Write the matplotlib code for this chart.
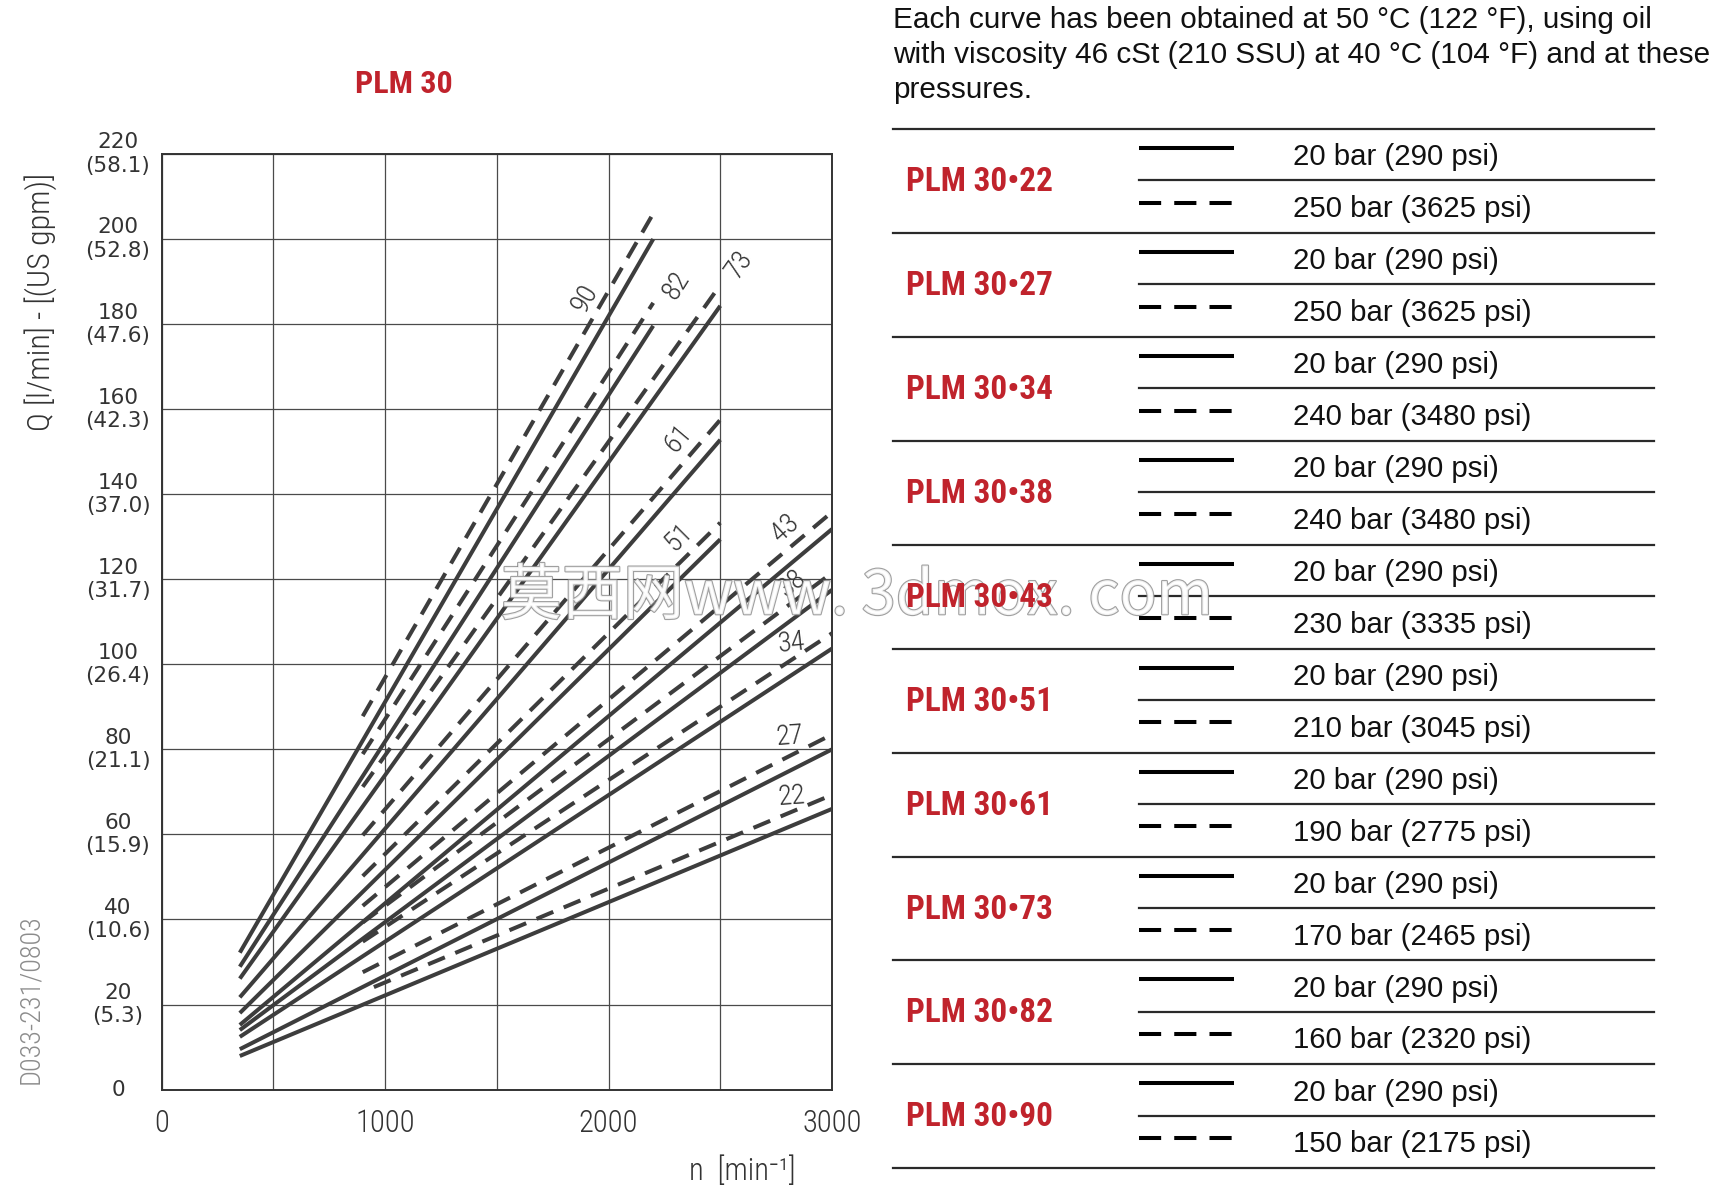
import matplotlib
matplotlib.use("Agg")
import matplotlib.pyplot as plt
import matplotlib.patheffects as pe
from matplotlib import font_manager

# ---------------- data ----------------
sizes = [22, 27, 34, 38, 43, 51, 61, 73, 82, 90]
solid_n_start = [350, 350, 350, 350, 350, 350, 350, 350, 350, 350]
solid_q_start = [7.9, 9.5, 12.4, 14.0, 15.2, 18.0, 21.7, 26.1, 28.9, 32.2]
n_end = [3000, 3000, 3000, 3000, 3000, 2500, 2500, 2500, 2200, 2200]
solid_q_end = [66.0, 80.0, 103.7, 117.5, 131.8, 129.4, 152.8, 184.3, 179.6, 200.0]
dash_n_start = [950, 900, 900, 900, 900, 900, 900, 900, 900, 900]
dash_q_start = [24.1, 27.6, 34.8, 39.3, 43.2, 50.2, 59.8, 71.2, 78.9, 87.8]
dash_q_end = [69.3, 83.5, 107.3, 121.5, 135.8, 133.3, 157.5, 189.2, 185.0, 206.0]

label_n = [2820, 2812, 2820, 2821, 2790, 2315, 2312, 2588, 2305, 1895]
label_q = [69, 83, 105, 119, 132, 130, 153, 194, 189, 186]
label_rot = [4, 4, 6, 40, 42, 45, 50, 55, 58, 60]

x_ticks = [0, 500, 1000, 1500, 2000, 2500, 3000]
x_tick_labels = ["0", "", "1000", "", "2000", "", "3000"]
y_ticks = [0, 20, 40, 60, 80, 100, 120, 140, 160, 180, 200, 220]
y_tick_labels = ["0", "20\n(5.3)", "40\n(10.6)", "60\n(15.9)", "80\n(21.1)",
                 "100\n(26.4)", "120\n(31.7)", "140\n(37.0)", "160\n(42.3)",
                 "180\n(47.6)", "200\n(52.8)", "220\n(58.1)"]

models = ["PLM 30•22", "PLM 30•27", "PLM 30•34", "PLM 30•38", "PLM 30•43",
          "PLM 30•51", "PLM 30•61", "PLM 30•73", "PLM 30•82", "PLM 30•90"]
low_pressure = ["20 bar (290 psi)"] * 10
high_pressure = ["250 bar (3625 psi)", "250 bar (3625 psi)", "240 bar (3480 psi)",
                 "240 bar (3480 psi)", "230 bar (3335 psi)", "210 bar (3045 psi)",
                 "190 bar (2775 psi)", "170 bar (2465 psi)", "160 bar (2320 psi)",
                 "150 bar (2175 psi)"]
header_lines = ["Each curve has been obtained at 50 °C (122 °F), using oil",
                "with viscosity 46 cSt (210 SSU) at 40 °C (104 °F) and at these",
                "pressures."]

# ---------------- fonts ----------------
fl = font_manager.fontManager.ttflist


def has(name, stretch=None):
    return any(f.name == name and (stretch is None or f.stretch == stretch) for f in fl)


if has("Liberation Sans Narrow"):
    COND = dict(family=["Liberation Sans Narrow", "DejaVu Sans"])
    k = 1.0
elif has("Roboto Condensed"):
    COND = dict(family=["Roboto Condensed", "DejaVu Sans"])
    k = 0.92
elif has("DejaVu Sans", "condensed"):
    COND = dict(family=["DejaVu Sans"], stretch="condensed")
    k = 0.84
else:
    COND = dict(family=["Liberation Sans", "DejaVu Sans"])
    k = 0.82
REG = dict(family=["Liberation Sans", "DejaVu Sans"])
THIN = dict(COND, fontweight="light")

RED = "#c0232c"
LINE = "#3d3d3d"
TXT = "#333333"

W, H = 1712, 1189
fig = plt.figure(figsize=(W / 100, H / 100), dpi=100)

# ---------------- chart ----------------
L, R, T, B = 161.6, 832.0, 154.0, 1089.6
ax = fig.add_axes([L / W, (H - B) / H, (R - L) / W, (B - T) / H])
ax.set_xlim(0, 3000)
ax.set_ylim(0, 220)

for i in range(len(sizes)):
    ax.plot([solid_n_start[i], n_end[i]], [solid_q_start[i], solid_q_end[i]],
            color=LINE, lw=2.9, solid_capstyle="butt", zorder=3)
    ax.plot([dash_n_start[i], n_end[i]], [dash_q_start[i], dash_q_end[i]],
            color=LINE, lw=2.9, ls=(0, (4.5, 2.8)), dash_capstyle="butt", zorder=3)
    ax.text(label_n[i], label_q[i], str(sizes[i]), rotation=label_rot[i],
            rotation_mode="anchor", ha="center", va="center",
            fontsize=22 * k, color=TXT, zorder=4, **THIN)

ax.set_xticks(x_ticks)
ax.set_xticklabels(x_tick_labels, fontsize=24 * k, color=TXT, **THIN)
ax.set_yticks(y_ticks)
ax.set_yticklabels(y_tick_labels, family="DejaVu Sans", fontsize=15.5, color=TXT,
                   ha="center", va="center", multialignment="center", linespacing=1.2)
ax.tick_params(axis="x", length=0, pad=14)
ax.tick_params(axis="y", length=0, pad=31.4)
ax.grid(True, color="#4a4a4a", lw=0.9)
ax.set_axisbelow(True)
for s in ax.spines.values():
    s.set_color("#333333")
    s.set_linewidth(1.4)

ax.set_xlabel("n  [min⁻¹]", fontsize=24 * k, color=TXT, va="center", ha="center", **THIN)
ax.xaxis.set_label_coords(0.866, -0.087)
ax.set_ylabel("Q [l/min] - [(US gpm)]", fontsize=25 * k, color=TXT, va="center",
              ha="center", **THIN)
ax.yaxis.set_label_coords(-0.180, 0.842)

fig.text(30.6 / W, 1 - 999 / H, "D033-231/0803", rotation=90, ha="center", va="center",
         fontsize=22 * k, color="#8c8c8c", **THIN)

fig.text(404 / W, 1 - 84 / H, "PLM 30", ha="center", va="center",
         fontweight="bold", fontsize=25 * k, color=RED, **COND)

# ---------------- right table ----------------
tx = fig.add_axes([0, 0, 1, 1])
tx.set_xlim(0, W)
tx.set_ylim(H, 0)
tx.axis("off")

for j, line in enumerate(header_lines):
    tx.text(893, 27.5 + j * 35.5, line, ha="left", va="baseline",
            fontsize=21.4, color="#111111", **REG)

top0, gh = 128.8, 103.96
for i, m in enumerate(models):
    t = top0 + i * gh
    tx.plot([893, 1654], [t, t], color="#2a2a2a", lw=1.6)
    tx.plot([1139, 1654], [t + 51.5, t + 51.5], color="#2a2a2a", lw=1.6)
    tx.plot([1139, 1234], [t + 19, t + 19], color="#000000", lw=2.9, solid_capstyle="butt")
    tx.plot([1139, 1234], [t + 73.8, t + 73.8], color="#000000", lw=2.9,
            ls=(0, (5.5, 3.25)), dash_capstyle="butt")
    tx.text(1293, t + 28.5, low_pressure[i], ha="left", va="center",
            fontsize=21.2, color="#111111", **REG)
    tx.text(1293, t + 80, high_pressure[i], ha="left", va="center",
            fontsize=21.2, color="#111111", **REG)
    tx.text(906, t + 53, m, ha="left", va="center",
            fontweight="bold", fontsize=26 * k, color=RED, zorder=4, **COND)
tb = top0 + len(models) * gh
tx.plot([893, 1654], [tb, tb], color="#2a2a2a", lw=1.6)

# watermark (semi-transparent so the table label stays readable)
tx.text(857, 597, "莫西网www. 3dmox. com", ha="center", va="center",
        family=["Noto Sans CJK SC", "DejaVu Sans"], fontsize=44, fontweight="light",
        color="white", alpha=0.85, zorder=3,
        path_effects=[pe.withStroke(linewidth=1.6, foreground="#8f8f8f")])

fig.savefig("out.png", dpi=100)
